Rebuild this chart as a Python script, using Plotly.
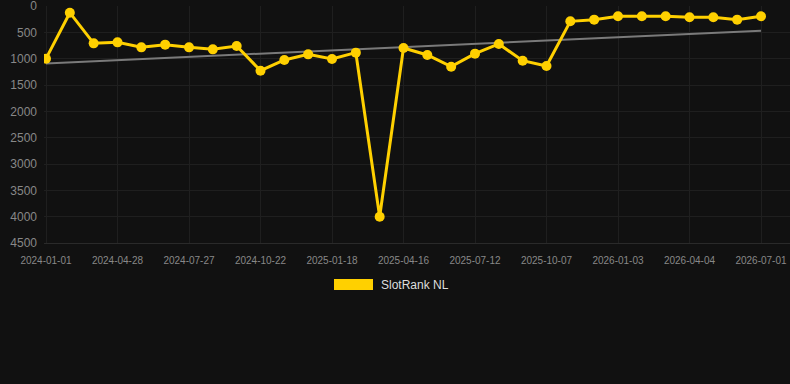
import numpy as np
import plotly.graph_objects as go

dates = [
    "2024-01-01", "2024-02-09", "2024-03-19", "2024-04-28", "2024-05-28", "2024-06-27",
    "2024-07-27", "2024-08-25", "2024-09-23", "2024-10-22", "2024-11-20", "2024-12-19",
    "2025-01-18", "2025-02-16", "2025-03-17", "2025-04-16", "2025-05-14", "2025-06-12",
    "2025-07-12", "2025-08-09", "2025-09-08", "2025-10-07", "2025-11-05", "2025-12-04",
    "2026-01-03", "2026-02-02", "2026-03-05", "2026-04-04", "2026-05-03", "2026-06-01",
    "2026-07-01",
]
ranks = [
    1000, 127, 709, 690, 785, 734, 785, 823, 759, 1228, 1025, 918, 1006, 886, 4000,
    797, 930, 1152, 905, 721, 1038, 1139, 291, 259, 196, 196, 196, 215, 215, 259, 196,
]
tick_dates = dates[::3]
y_ticks = [0, 500, 1000, 1500, 2000, 2500, 3000, 3500, 4000, 4500]
series_name = "SlotRank NL"

YELLOW = "#ffd000"
FONT = "Liberation Sans, Arial, sans-serif"

idx = np.arange(len(ranks))
slope, intercept = np.polyfit(idx, np.array(ranks, dtype=float), 1)
trend = slope * idx + intercept

fig = go.Figure()
fig.add_trace(go.Scatter(
    x=dates, y=list(trend), mode="lines",
    line=dict(color="#7a7a7a", width=2), hoverinfo="skip", showlegend=False,
))
fig.add_trace(go.Scatter(
    x=dates, y=ranks, mode="lines+markers", name=series_name,
    line=dict(color=YELLOW, width=3),
    marker=dict(color=YELLOW, size=10),
    showlegend=False,
))

# legend drawn manually (wide box swatch)
fig.add_shape(type="rect", xref="paper", yref="paper",
              x0=(334 - 44) / 746, x1=(373 - 44) / 746,
              y0=(243 - 290) / 237, y1=(243 - 279) / 237,
              fillcolor=YELLOW, line=dict(width=0))
fig.add_annotation(xref="paper", yref="paper", x=(379 - 44) / 746, y=(243 - 285) / 237,
                   text=series_name, showarrow=False, xanchor="left", yanchor="middle",
                   font=dict(family=FONT, size=12, color="#dddddd"))

fig.update_layout(
    width=790, height=384,
    margin=dict(l=44, r=0, t=6, b=141),
    paper_bgcolor="#111111", plot_bgcolor="#111111",
    font=dict(family=FONT, color="#888888"),
    showlegend=False,
    xaxis=dict(
        type="category", range=[-2 / 23.83, 30 + 29 / 23.83],
        tickvals=tick_dates, ticktext=tick_dates,
        tickfont=dict(size=10, color="#888888"),
        showgrid=True, gridcolor="#1f1f1f", gridwidth=1,
        zeroline=False, showline=True, linecolor="#2a2a2a",
        ticks="", ticklabelstandoff=8,
    ),
    yaxis=dict(
        range=[4500, 0], tickvals=y_ticks,
        tickfont=dict(size=12, color="#888888"),
        showgrid=True, gridcolor="#1f1f1f", gridwidth=1,
        zeroline=False, showline=False, ticks="", ticklabelstandoff=6,
        ticklabeloverflow="allow",
    ),
)

fig.write_html("out.html")
